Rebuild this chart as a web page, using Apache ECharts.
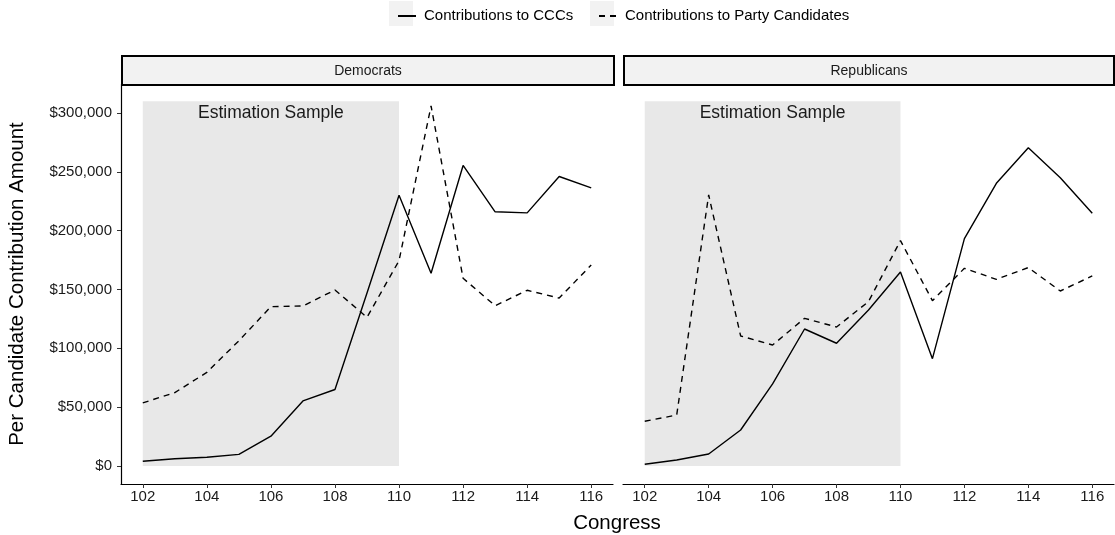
<!DOCTYPE html>
<html>
<head>
<meta charset="utf-8">
<script src="https://cdn.jsdelivr.net/npm/echarts@6/dist/echarts.min.js"></script>
<style>
  html, body { margin: 0; padding: 0; background: #fff; }
  #chart { width: 1115px; height: 535px; }
</style>
</head>
<body>
<div id="chart"></div>
<script>
// congress numbers on the x axis
const congress = [102, 103, 104, 105, 106, 107, 108, 109, 110, 111, 112, 113, 114, 115, 116];
const xTicks = [102, 104, 106, 108, 110, 112, 114, 116];
const yTicks = [0, 50000, 100000, 150000, 200000, 250000, 300000];

// Democrats
const demCCC = [4000, 6200, 7400, 9900, 25300, 55300, 65000, 147000, 230000, 163800, 255400, 216000, 215100, 246000, 236400];
const demParty = [53600, 62400, 79500, 106400, 135400, 136000, 149600, 126300, 174500, 306000, 159500, 136200, 149300, 142700, 170800];

// Republicans
const repCCC = [1500, 5100, 10200, 30600, 69700, 116400, 104300, 132600, 164900, 91200, 193200, 240200, 270500, 245000, 214700];
const repParty = [38000, 43300, 230300, 110500, 102800, 125500, 118100, 139700, 191500, 140500, 168000, 158600, 168600, 148700, 161500];

// shaded estimation window
const sampleStart = 102, sampleEnd = 110, sampleTop = 310000;

const FONT = 'Liberation Sans, Arial, sans-serif';
const chart = echarts.init(document.getElementById('chart'), null, { renderer: 'canvas' });

function pairs(vals) {
  return congress.map((c, i) => [c, vals[i]]);
}

function xAxisFor(idx) {
  return {
    type: 'value', gridIndex: idx, min: 101.32, max: 116.68,
    splitLine: { show: false },
    axisLine: { show: true, onZero: false, lineStyle: { color: '#000', width: 1.2 } },
    axisTick: { show: true, length: 4, customValues: xTicks, lineStyle: { color: '#333', width: 1 } },
    axisLabel: { customValues: xTicks, fontSize: 15, color: '#1a1a1a', margin: 5, fontFamily: FONT }
  };
}

function yAxisFor(idx, visible) {
  return {
    type: 'value', gridIndex: idx, min: -15300, max: 324600,
    show: visible,
    name: visible ? 'Per Candidate Contribution Amount' : '',
    nameLocation: 'middle', nameGap: 93,
    nameTextStyle: { fontSize: 20.5, color: '#000', fontFamily: FONT },
    splitLine: { show: false },
    axisLine: { show: true, lineStyle: { color: '#000', width: 1.2 } },
    axisTick: { show: true, length: 4, customValues: yTicks, lineStyle: { color: '#333', width: 1 } },
    axisLabel: {
      customValues: yTicks, fontSize: 15, color: '#1a1a1a', margin: 9, fontFamily: FONT,
      formatter: v => '$' + v.toLocaleString('en-US')
    }
  };
}

function shade(idx) {
  return {
    type: 'line', xAxisIndex: idx, yAxisIndex: idx, data: [], z: 1, silent: true,
    markArea: {
      silent: true,
      itemStyle: { color: '#E8E8E8' },
      label: { show: true, position: 'insideTop', distance: 3, color: '#1a1a1a', fontSize: 17.5, fontFamily: FONT },
      data: [[{ name: 'Estimation Sample', coord: [sampleStart, 0] }, { coord: [sampleEnd, sampleTop] }]]
    }
  };
}

function lineSeries(name, vals, idx, dashed) {
  return {
    name: name, type: 'line', xAxisIndex: idx, yAxisIndex: idx, z: 3,
    data: pairs(vals), symbol: 'none', silent: true,
    lineStyle: { color: '#000', width: 1.4, type: dashed ? [6, 5] : 'solid' },
    itemStyle: { color: '#000' }
  };
}

function legendFor(name, x) {
  return {
    data: [name], left: x, top: 1, itemWidth: 18, itemHeight: 25,
    itemStyle: { color: 'rgba(0,0,0,0)', borderWidth: 0, opacity: 0 },
    textStyle: { fontSize: 15, color: '#000', fontFamily: FONT, padding: [0, 0, 0, 3] },
    selectedMode: false
  };
}

function strip(x, w, text) {
  return {
    type: 'group', left: x, top: 55,
    children: [
      { type: 'rect', shape: { x: 0, y: 0, width: w, height: 29 },
        style: { fill: '#F2F2F2', stroke: '#000', lineWidth: 2 } },
      { type: 'text', x: w / 2, y: 15,
        style: { text: text, fill: '#1a1a1a', font: '14px ' + FONT, align: 'center', verticalAlign: 'middle' } }
    ]
  };
}

const option = {
  animation: false,
  backgroundColor: '#fff',
  grid: [
    { left: 121, top: 84, width: 492, height: 400 },
    { left: 623, top: 84, width: 491, height: 400 }
  ],
  legend: [
    legendFor('Contributions to CCCs', 392),
    legendFor('Contributions to Party Candidates', 593)
  ],
  xAxis: [xAxisFor(0), xAxisFor(1)],
  yAxis: [yAxisFor(0, true), yAxisFor(1, false)],
  graphic: [
    { type: 'rect', left: 389, top: 1, shape: { width: 24, height: 25 }, style: { fill: '#F2F2F2' }, z: -1 },
    { type: 'rect', left: 590, top: 1, shape: { width: 24, height: 25 }, style: { fill: '#F2F2F2' }, z: -1 },
    strip(121, 492, 'Democrats'),
    strip(623, 490, 'Republicans'),
    { type: 'text', x: 617, y: 523,
      style: { text: 'Congress', fill: '#000', font: '20.5px ' + FONT, align: 'center', verticalAlign: 'middle' } }
  ],
  series: [
    shade(0),
    shade(1),
    lineSeries('Contributions to CCCs', demCCC, 0, false),
    lineSeries('Contributions to Party Candidates', demParty, 0, true),
    lineSeries('Contributions to CCCs', repCCC, 1, false),
    lineSeries('Contributions to Party Candidates', repParty, 1, true)
  ]
};

chart.setOption(option);
</script>
</body>
</html>
